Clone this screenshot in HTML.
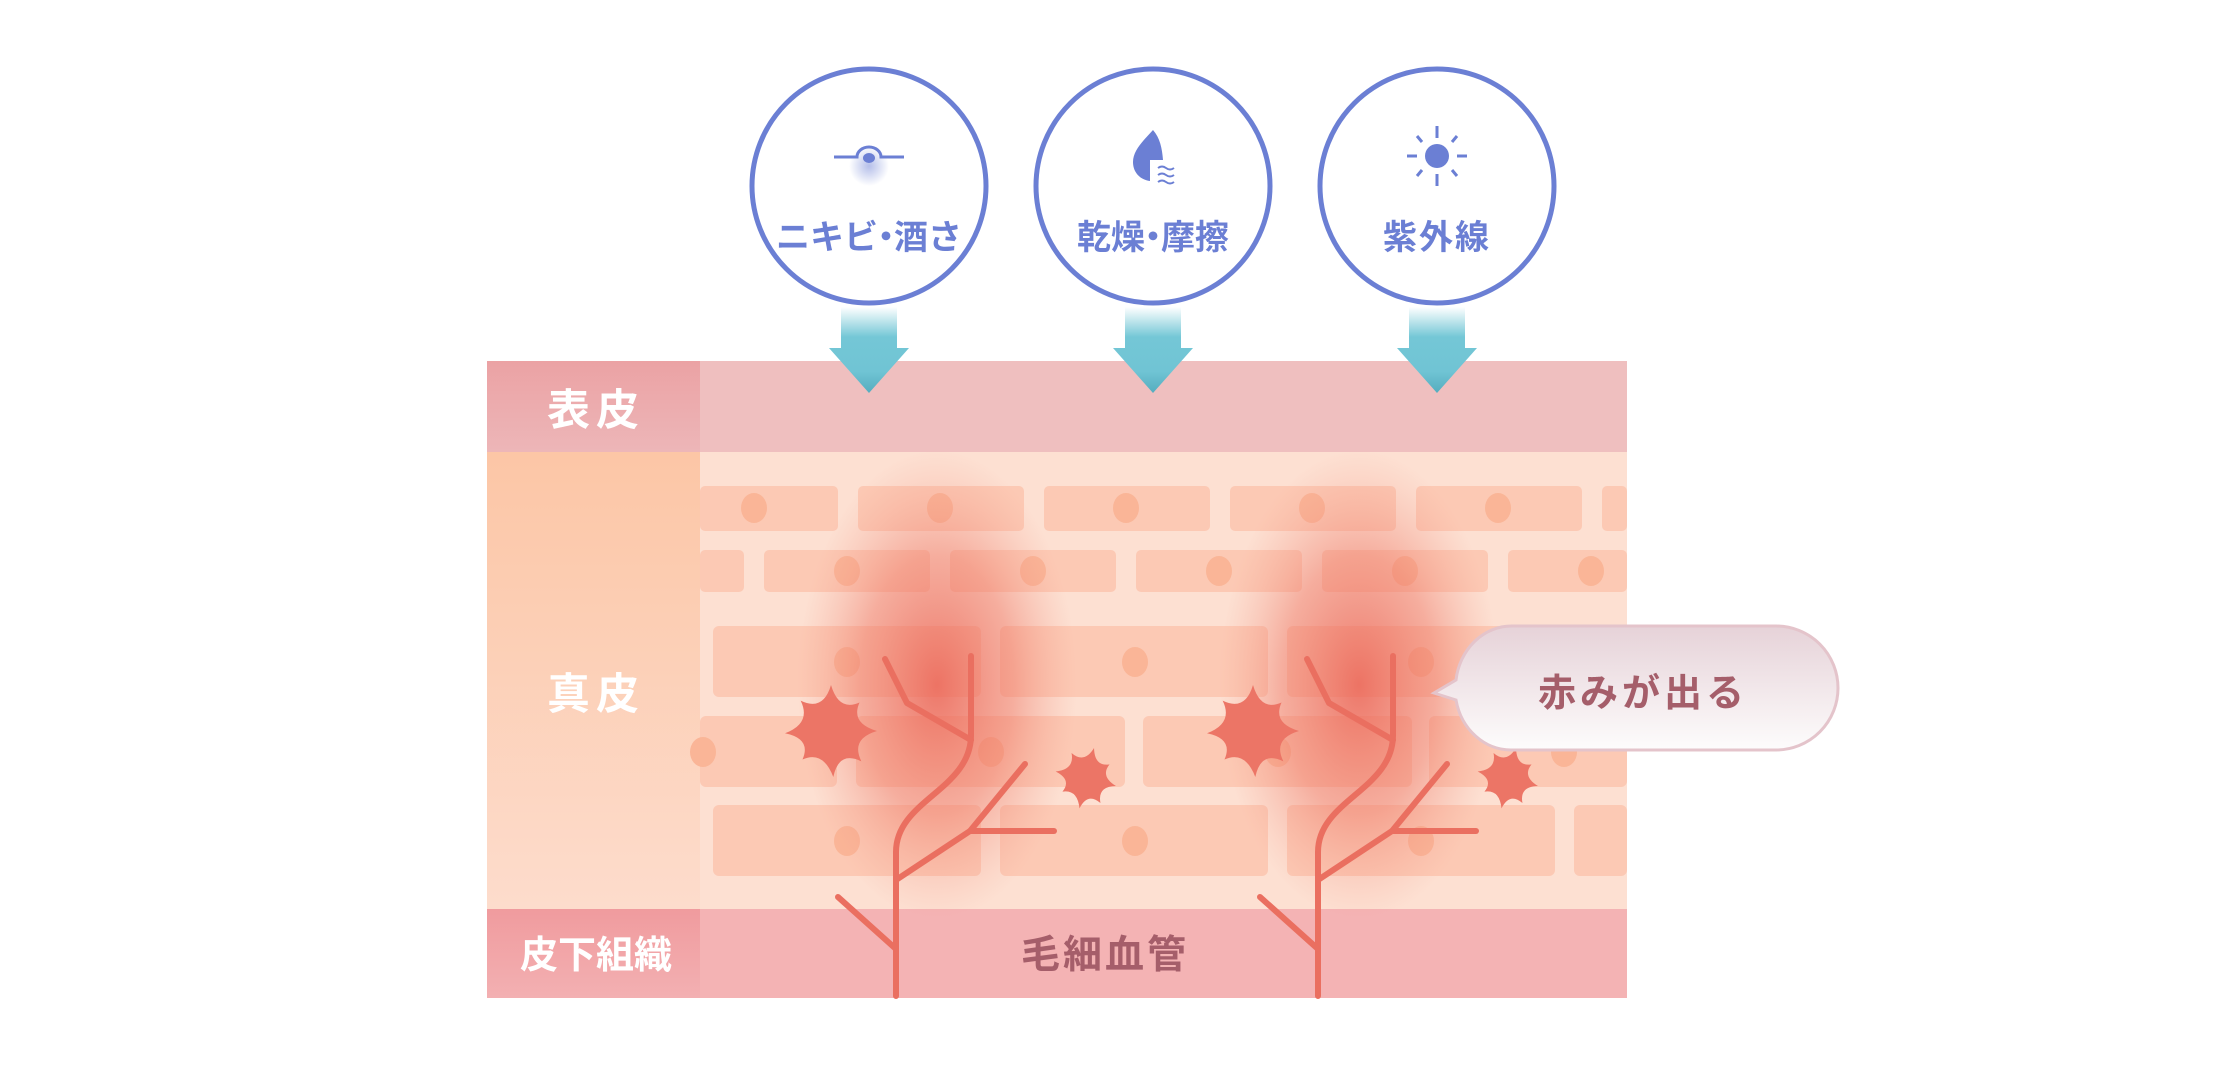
<!DOCTYPE html>
<html><head><meta charset="utf-8"><style>
html,body{margin:0;padding:0;background:#fff}
svg{display:block}
text{font-family:"Liberation Sans","Noto Sans CJK JP",sans-serif;font-weight:bold}
</style></head><body>
<svg width="2226" height="1080" viewBox="0 0 2226 1080" xmlns="http://www.w3.org/2000/svg">
<defs>
<linearGradient id="arr" x1="0" y1="0" x2="0" y2="1">
<stop offset="0" stop-color="#fff"/><stop offset="0.35" stop-color="#74c7d6"/><stop offset="0.75" stop-color="#70c4d4"/><stop offset="1" stop-color="#55adbf"/></linearGradient>
<radialGradient id="blob" cx="0.5" cy="0.5" r="0.5">
<stop offset="0" stop-color="#ea6456" stop-opacity="0.85"/><stop offset="0.55" stop-color="#ee7b6a" stop-opacity="0.5"/><stop offset="1" stop-color="#f3a090" stop-opacity="0"/></radialGradient>
<radialGradient id="glow" cx="0.5" cy="0.5" r="0.5"><stop offset="0" stop-color="#6b7fd4" stop-opacity="0.5"/><stop offset="1" stop-color="#6b7fd4" stop-opacity="0"/></radialGradient>
<linearGradient id="lepi" x1="0" y1="0" x2="0" y2="1"><stop offset="0" stop-color="#eba2a4"/><stop offset="1" stop-color="#edb6b8"/></linearGradient>
<linearGradient id="lder" x1="0" y1="0" x2="0" y2="1"><stop offset="0" stop-color="#fcc6a6"/><stop offset="1" stop-color="#fddccc"/></linearGradient>
<linearGradient id="lsub" x1="0" y1="0" x2="0" y2="1"><stop offset="0" stop-color="#f09b9e"/><stop offset="1" stop-color="#f3b0b2"/></linearGradient>
<linearGradient id="bub" x1="0" y1="0" x2="0" y2="1"><stop offset="0" stop-color="#e6d2d8"/><stop offset="1" stop-color="#fdfcfc"/></linearGradient>
<path id="sp" d="M0,-1 Q0.17,-0.42 0.62,-0.62 Q0.42,-0.17 1,0 Q0.42,0.17 0.66,0.66 Q0.17,0.42 0.05,1 Q-0.17,0.42 -0.62,0.62 Q-0.42,0.17 -1,0.05 Q-0.42,-0.17 -0.66,-0.66 Q-0.17,-0.42 0,-1Z" fill="#ec7566"/>
</defs>

<rect x="487" y="361" width="1140" height="91" fill="#efbfbf"/>
<rect x="487" y="452" width="1140" height="457" fill="#fde0d2"/>
<rect x="487" y="909" width="1140" height="89" fill="#f4b3b4"/>
<rect x="487" y="361" width="213" height="91" fill="url(#lepi)"/>
<rect x="487" y="452" width="213" height="457" fill="url(#lder)"/>
<rect x="487" y="909" width="213" height="89" fill="url(#lsub)"/>

<g fill="#fcc9b4">
<rect x="700" y="486" width="138" height="45" rx="5"/><rect x="858" y="486" width="166" height="45" rx="5"/><rect x="1044" y="486" width="166" height="45" rx="5"/><rect x="1230" y="486" width="166" height="45" rx="5"/><rect x="1416" y="486" width="166" height="45" rx="5"/><rect x="1602" y="486" width="25" height="45" rx="5"/>
<rect x="700" y="550" width="44" height="42" rx="5"/><rect x="764" y="550" width="166" height="42" rx="5"/><rect x="950" y="550" width="166" height="42" rx="5"/><rect x="1136" y="550" width="166" height="42" rx="5"/><rect x="1322" y="550" width="166" height="42" rx="5"/><rect x="1508" y="550" width="119" height="42" rx="5"/>
<rect x="713" y="626" width="268" height="71" rx="6"/><rect x="1000" y="626" width="268" height="71" rx="6"/><rect x="1287" y="626" width="268" height="71" rx="6"/><rect x="1573" y="626" width="54" height="71" rx="6"/>
<rect x="700" y="716" width="137" height="71" rx="6"/><rect x="856" y="716" width="269" height="71" rx="6"/><rect x="1143" y="716" width="269" height="71" rx="6"/><rect x="1429" y="716" width="198" height="71" rx="6"/>
<rect x="713" y="805" width="268" height="71" rx="6"/><rect x="1000" y="805" width="268" height="71" rx="6"/><rect x="1287" y="805" width="268" height="71" rx="6"/><rect x="1574" y="805" width="53" height="71" rx="6"/>
</g>
<g fill="#fab597">
<ellipse cx="754" cy="508" rx="13" ry="15"/><ellipse cx="940" cy="508" rx="13" ry="15"/><ellipse cx="1126" cy="508" rx="13" ry="15"/><ellipse cx="1312" cy="508" rx="13" ry="15"/><ellipse cx="1498" cy="508" rx="13" ry="15"/>
<ellipse cx="847" cy="571" rx="13" ry="15"/><ellipse cx="1033" cy="571" rx="13" ry="15"/><ellipse cx="1219" cy="571" rx="13" ry="15"/><ellipse cx="1405" cy="571" rx="13" ry="15"/><ellipse cx="1591" cy="571" rx="13" ry="15"/>
<ellipse cx="847" cy="662" rx="13" ry="15"/><ellipse cx="1135" cy="662" rx="13" ry="15"/><ellipse cx="1421" cy="662" rx="13" ry="15"/>
<ellipse cx="703" cy="752" rx="13" ry="15"/><ellipse cx="991" cy="752" rx="13" ry="15"/><ellipse cx="1278" cy="752" rx="13" ry="15"/><ellipse cx="1564" cy="752" rx="13" ry="15"/>
<ellipse cx="847" cy="841" rx="13" ry="15"/><ellipse cx="1135" cy="841" rx="13" ry="15"/><ellipse cx="1421" cy="841" rx="13" ry="15"/>
</g>

<ellipse cx="937" cy="685" rx="140" ry="235" fill="url(#blob)"/>
<ellipse cx="1359" cy="685" rx="140" ry="235" fill="url(#blob)"/>

<g transform="translate(831,731) scale(46)"><use href="#sp"/></g>
<g transform="translate(1086,778) scale(31) rotate(15)"><use href="#sp"/></g>
<g transform="translate(1253,731) scale(46)"><use href="#sp"/></g>
<g transform="translate(1508,778) scale(31) rotate(15)"><use href="#sp"/></g>

<g fill="none" stroke="#ea6f60" stroke-width="6" stroke-linecap="round" stroke-linejoin="round">
<g id="v1">
<path d="M896,996 V852 C896,800 971,790 971,735 V656"/>
<path d="M896,880 L970,831 L1025,764"/>
<path d="M970,831 H1054"/>
<path d="M838,897 L896,949"/>
<path d="M885,659 L907,703 L971,740"/>
</g>
<use href="#v1" transform="translate(422,0)"/>
</g>

<g fill="#fff" text-anchor="middle">
<text x="596" y="425" font-size="43" letter-spacing="6">表皮</text>
<text x="596" y="709" font-size="43" letter-spacing="6">真皮</text>
<text x="596" y="968" font-size="38">皮下組織</text>
</g>
<text x="1105" y="968" font-size="39" fill="#a55e6a" text-anchor="middle" letter-spacing="3">毛細血管</text>

<path d="M1512,626 H1776 A62,62 0 0 1 1776,750 H1512 A56,62 0 0 1 1456,700 L1434,693 L1456,680 A56,62 0 0 1 1512,626Z" fill="url(#bub)" stroke="#e4c4cb" stroke-width="3"/>
<text x="1643" y="706" font-size="38" fill="#a55e6a" text-anchor="middle" letter-spacing="4">赤みが出る</text>

<g fill="url(#arr)">
<path d="M841,307 H897 V348 H909 L869,393 L829,348 H841Z"/>
<path d="M1125,307 H1181 V348 H1193 L1153,393 L1113,348 H1125Z"/>
<path d="M1409,307 H1465 V348 H1477 L1437,393 L1397,348 H1409Z"/>
</g>

<g fill="#fff" stroke="#6b7fd4" stroke-width="5">
<circle cx="869" cy="186" r="117"/><circle cx="1153" cy="186" r="117"/><circle cx="1437" cy="186" r="117"/>
</g>
<g fill="#6b7fd4" font-size="34" text-anchor="middle">
<text x="869" y="249">ニキビ<tspan dx="-9">・</tspan><tspan dx="-9">酒さ</tspan></text>
<text x="1153" y="249">乾燥<tspan dx="-9">・</tspan><tspan dx="-9">摩擦</tspan></text>
<text x="1437" y="249" letter-spacing="2">紫外線</text>
</g>
<circle cx="869" cy="166" r="20" fill="url(#glow)"/>
<path d="M834,157 H857 A12,10 0 0 1 881,157 H904" fill="none" stroke="#6b7fd4" stroke-width="3"/>
<ellipse cx="869" cy="158" rx="6" ry="5" fill="#6b7fd4"/>
<path d="M1153,130 C1144,140 1133,150 1133,162 C1133,173 1141,180 1150,181 V160 H1163 C1162,148 1160,138 1153,130Z" fill="#6b7fd4"/>
<path d="M1158,168 q4,-3 8,0 t8,0 M1158,175 q4,-3 8,0 t8,0 M1158,182 q4,-3 8,0 t8,0" fill="none" stroke="#6b7fd4" stroke-width="2"/>
<circle cx="1437" cy="156" r="12" fill="#6b7fd4"/>
<g stroke="#6b7fd4" stroke-width="3">
<path d="M1437,126 V138 M1437,174 V186 M1407,156 H1417 M1457,156 H1467 M1417,136 L1422,142 M1457,136 L1452,142 M1417,176 L1422,170 M1457,176 L1452,170"/>
</g>
</svg>
</body></html>
